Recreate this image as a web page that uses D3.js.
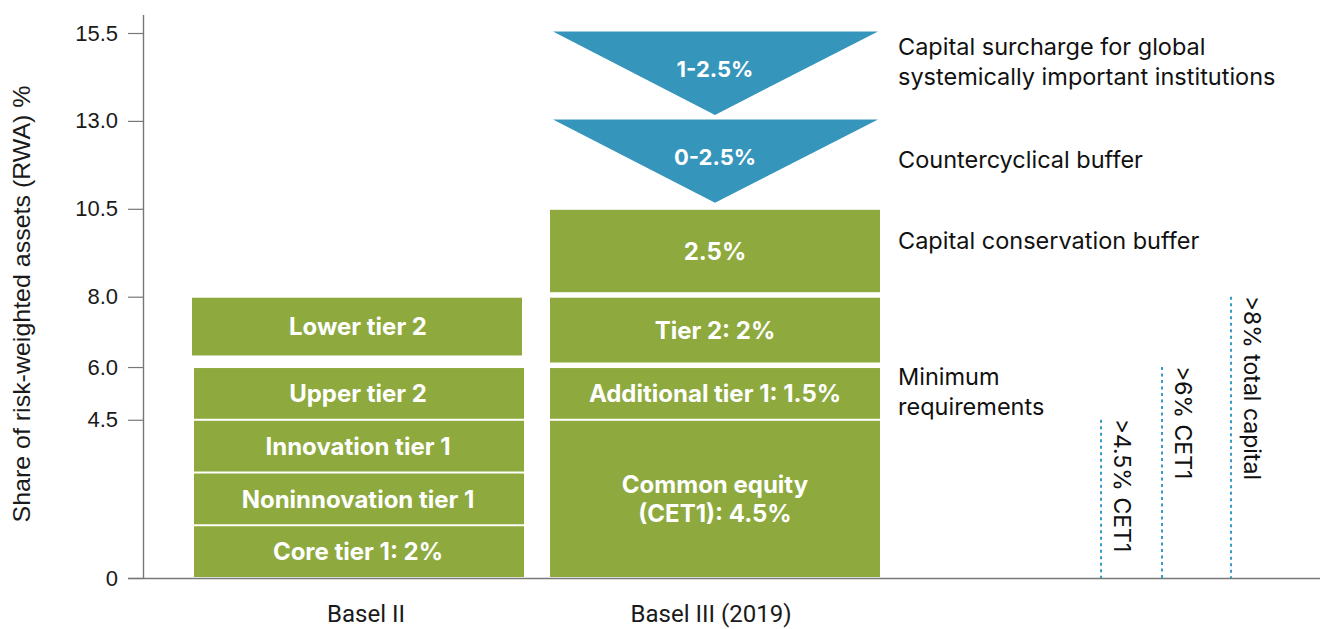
<!DOCTYPE html>
<html><head><meta charset="utf-8">
<script src="https://cdn.jsdelivr.net/npm/d3@7"></script>
<style>
body{margin:0;background:#fff;}
svg{display:block;}
</style></head>
<body>
<svg id="chart" width="1320" height="629"></svg>
<script>
// ---- data ----
const categories = ["Basel II", "Basel III (2019)"];
const yTicks = [0, 4.5, 6.0, 8.0, 10.5, 13.0, 15.5];
const baselIILabels = ["Core tier 1: 2%", "Noninnovation tier 1", "Innovation tier 1", "Upper tier 2", "Lower tier 2"];
const baselIIStart = [0, 1.5, 3.0, 4.5, 6.3];
const baselIIEnd = [1.5, 3.0, 4.5, 6.0, 8.0];
const baselIIILabels = [["Common equity", "(CET1): 4.5%"], ["Additional tier 1: 1.5%"], ["Tier 2: 2%"], ["2.5%"]];
const baselIIIStart = [0, 4.5, 6.1, 8.1];
const baselIIIEnd = [4.5, 6.0, 8.0, 10.5];
const bufferLabels = ["0-2.5%", "1-2.5%"];
const bufferStart = [10.5, 13.0];
const bufferEnd = [13.0, 15.5];
const sideLabels = [["Capital surcharge for global", "systemically important institutions"], ["Countercyclical buffer"], ["Capital conservation buffer"], ["Minimum", "requirements"]];
const sideLabelValues = [14.7, 11.9, 9.6, 5.3];
const reqLabels = [">4.5% CET1", ">6% CET1", ">8% total capital"];
const reqValues = [4.5, 6.0, 8.0];

// ---- setup ----
const svg = d3.select("#chart");
const green = "#8eaa3f", blue = "#3595bb", dotBlue = "#3a9cc6";
const y = d3.scaleLinear().domain([0, 15.5]).range([578, 33]);
const x = d3.scaleBand().domain(categories).range([193, 880]).paddingInner(27/357).paddingOuter(0);
const bw = x.bandwidth();

// axes
const yAxis = d3.axisLeft(y).tickValues(yTicks).tickSize(15).tickPadding(10)
  .tickFormat(d => d === 0 ? "0" : d3.format(".1f")(d));
const gy = svg.append("g").attr("transform", "translate(143,0)").call(yAxis);
gy.select(".domain").remove();
gy.selectAll(".tick line").attr("stroke", "#777").attr("stroke-width", 1.2);
gy.selectAll(".tick text").attr("fill", "#1a1a1a").style("font-family", "'Liberation Sans', Arial, sans-serif").style("font-size", "22px");
svg.append("line").attr("x1", 143.5).attr("x2", 143.5).attr("y1", 15).attr("y2", 578).attr("stroke", "#777").attr("stroke-width", 1.4);
svg.append("line").attr("x1", 128).attr("x2", 1320).attr("y1", 578.5).attr("y2", 578.5).attr("stroke", "#777").attr("stroke-width", 1.4);

svg.append("text").attr("transform", "translate(30,304) rotate(-90)").attr("text-anchor", "middle")
  .attr("fill", "#1a1a1a").style("font-family", "'Liberation Sans', Arial, sans-serif").style("font-size", "24px")
  .attr("textLength", 437).attr("lengthAdjust", "spacingAndGlyphs")
  .text("Share of risk-weighted assets (RWA) %");

// x labels
const xLabelShift = [8, -4];
svg.selectAll(".xl").data(categories).enter().append("text")
  .attr("x", (d, i) => x(d) + bw/2 + xLabelShift[i]).attr("y", 622).attr("text-anchor", "middle")
  .attr("fill", "#1a1a1a").style("font-family", "Roboto, sans-serif").style("font-size", "24px")
  .text(d => d);

const boldFont = "Inter, 'Noto Sans', sans-serif";
// Basel II
const b2 = baselIILabels.map((l, i) => ({label: l, s: baselIIStart[i], e: baselIIEnd[i]}));
svg.selectAll(".b2").data(b2).enter().append("rect")
  .attr("x", (d, i) => x(categories[0]) + (i < 4 ? 1 : -1)).attr("width", bw)
  .attr("y", d => y(d.e) + 1).attr("height", d => y(d.s) - y(d.e) - 2)
  .attr("fill", green);
svg.selectAll(".b2t").data(b2).enter().append("text")
  .attr("x", x(categories[0]) + bw/2).attr("y", d => (y(d.s) + y(d.e))/2).attr("dy", "0.36em")
  .attr("text-anchor", "middle").attr("fill", "#fff").style("font-family", boldFont).style("font-weight", 700).style("font-size", "24px")
  .text(d => d.label);

// Basel III
const b3 = baselIIILabels.map((l, i) => ({label: l, s: baselIIIStart[i], e: baselIIIEnd[i]}));
svg.selectAll(".b3").data(b3).enter().append("rect")
  .attr("x", x(categories[1])).attr("width", bw)
  .attr("y", d => y(d.e) + 1).attr("height", d => y(d.s) - y(d.e) - 2)
  .attr("fill", green);
b3.forEach(d => {
  const cy = (y(d.s) + y(d.e))/2;
  const n = d.label.length;
  d.label.forEach((line, j) => {
    svg.append("text").attr("x", x(categories[1]) + bw/2).attr("y", cy + (j - (n-1)/2) * 29).attr("dy", "0.36em")
      .attr("text-anchor", "middle").attr("fill", "#fff").style("font-family", boldFont).style("font-weight", 700).style("font-size", "24px")
      .text(line);
  });
});

// buffers (triangles)
const bufs = bufferLabels.map((l, i) => ({label: l, s: bufferStart[i], e: bufferEnd[i]}));
const cx = x(categories[1]) + bw/2;
svg.selectAll(".tri").data(bufs).enter().append("path")
  .attr("d", d => {
    const top = y(d.e) - 1.5, bot = y(d.s) - 6;
    return `M${x(categories[1]) + 3},${top} L${x(categories[1]) + bw - 2},${top} L${cx},${bot} Z`;
  })
  .attr("fill", blue);
svg.selectAll(".trit").data(bufs).enter().append("text")
  .attr("x", cx).attr("y", d => y(d.e) + (y(d.s) - y(d.e)) * 0.41).attr("dy", "0.36em")
  .attr("text-anchor", "middle").attr("fill", "#fff").style("font-family", boldFont).style("font-weight", 700).style("font-size", "22px")
  .text(d => d.label);

// side labels
sideLabels.forEach((lines, i) => {
  const cy = y(sideLabelValues[i]);
  lines.forEach((line, j) => {
    svg.append("text").attr("x", 898).attr("y", cy + (j - (lines.length-1)/2) * 30).attr("dy", "0.36em")
      .attr("fill", "#111").style("font-family", "Inter, sans-serif").style("font-size", "23.5px")
      .text(line);
  });
});

// requirement dotted lines
const rx = [1101, 1162, 1231];
reqValues.forEach((v, i) => {
  svg.append("line").attr("x1", rx[i]).attr("x2", rx[i]).attr("y1", y(v)).attr("y2", 578)
    .attr("stroke", dotBlue).attr("stroke-width", 2).attr("stroke-dasharray", "3,3.5");
  svg.append("text").attr("transform", `translate(${rx[i] + 11},${y(v) - 1}) rotate(90)`)
    .attr("dy", "-0.1em").attr("fill", "#111").style("font-family", "Inter, sans-serif").style("font-size", "23px")
    .text(reqLabels[i]);
});
</script>
</body></html>
